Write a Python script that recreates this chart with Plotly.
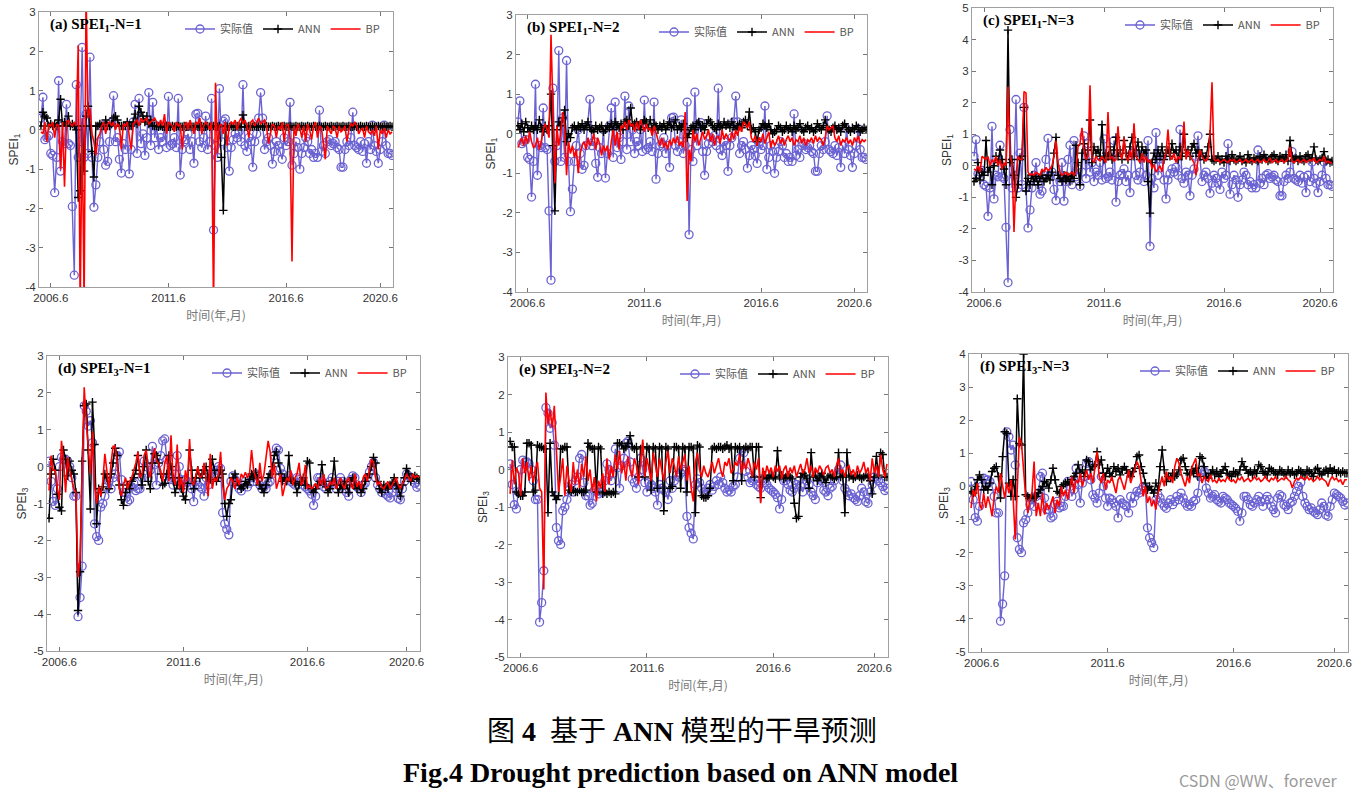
import plotly.graph_objects as go

W, H = 1356, 798

# ---------------- data (monthly, Jan 2006 .. Dec 2020) ----------------
months = list(range(1, 181))
xtick_vals = [6, 66, 126, 174]
xtick_text = ["2006.6", "2011.6", "2016.6", "2020.6"]

spei1_actual = [
    0.3, 0.83, -0.25, -0.2, -0.15, -0.6, -0.65, -1.6, -0.7, 1.25, -1.05, -0.3,
    -0.35, 0.65, -0.35, -0.4, -1.95, -3.7, 1.15, -0.7, -0.3, 2.1, -0.7, 0.4,
    -0.6, 1.85, -0.7, -1.97, -1.4, -0.7, -0.3, 0.1, -0.5, -0.9, -0.8, -0.3,
    0.2, 0.87, -0.3, -0.2, -0.75, -1.1, -0.35, -0.5, 0.1, -1.12, -0.5, 0.2,
    0.65, -0.6, 0.8, -0.35, -0.1, -0.65, -0.2, 0.95, -0.4, 0.7, -0.2, 0.1,
    -0.5, -0.2, -0.3, 0.1, -0.45, 0.85, -0.4, -0.35, -0.2, -0.45, 0.8, -1.15,
    -0.5, -0.3, -0.25, -0.1, -0.5, -0.3, -0.85, 0.4, 0.42, -0.3, -0.45, -0.2,
    0.35, -0.5, -0.3, 0.8, -2.55, -0.4, -0.7, 1.05, -0.3, 0.22, 0.28, -0.45,
    -1.05, -0.45, -0.25, -0.1, -0.2, -0.05, -0.3, 1.15, -0.4, -0.55, -0.2, -0.3,
    -0.95, -0.3, -0.1, 0.3, 0.95, 0.3, -0.5, -0.3, -0.2, -0.4, -0.87, -0.55,
    -0.3, -0.4, -0.55, -0.75, -0.2, -0.4, -0.3, 0.7, -0.9, -0.6, -0.3, -0.45,
    -1.0, -0.6, -0.45, -0.2, -0.3, -0.6, -0.5, -0.7, -0.6, -0.7, 0.5, -0.55,
    -0.4, -0.6, -0.3, -0.25, -0.4, -0.35, -0.3, -0.45, -0.5, -0.95, -0.95, -0.5,
    -0.3, -0.4, -0.2, 0.45, -0.4, -0.45, -0.5, -0.3, -0.55, -0.35, -0.85, -0.3,
    -0.5, 0.12, -0.4, -0.55, -0.85, -0.5, -0.3, 0.12, -0.4, -0.6, -0.6, -0.65,
]

ann_a = [
    0.1, 0.45, 0.35, 0.3, 0.1, 0.15, 0.1, 0.15, 0.1, 0.25, 0.78, 0.1,
    0.2, 0.1, 0.35, 0.1, 0.15, 0.1, 0.0, -1.72, -1.55, 0.1, -1.05, 0.35,
    0.6, 0.1, -0.55, -1.2, 0.1, 0.1, 0.15, 0.1, 0.1, 0.25, 0.1, 0.1,
    0.15, 0.3, 0.35, 0.25, 0.1, 0.1, 0.1, 0.1, 0.2, 0.1, 0.1, 0.2,
    0.4, 0.15, 0.6, 0.45, 0.35, 0.2, 0.35, 0.15, 0.25, 0.1, 0.1, 0.1,
    0.08, 0.1, 0.08, 0.08, 0.1, 0.08, 0.08, 0.1, 0.08, 0.08, 0.1, 0.08,
    0.08, 0.1, 0.08, 0.08, 0.1, 0.08, 0.08, 0.1, 0.08, 0.08, 0.1, 0.08,
    0.08, 0.1, 0.08, 0.08, 0.1, 0.08, 0.08, 0.1, -0.7, -2.05, 0.1, 0.08,
    0.08, 0.1, 0.08, 0.08, 0.1, 0.08, 0.08, 0.38, 0.08, 0.08, 0.1, 0.08,
    0.08, 0.1, 0.08, 0.08, 0.1, 0.08, 0.08, 0.1, 0.08, 0.08, 0.1, 0.08,
    0.08, 0.1, 0.08, 0.08, 0.1, 0.08, 0.08, 0.1, 0.08, 0.08, 0.1, 0.08,
    0.08, 0.1, 0.08, 0.08, 0.1, 0.08, 0.08, 0.1, 0.08, 0.08, 0.1, 0.08,
    0.08, 0.1, 0.08, 0.08, 0.1, 0.08, 0.08, 0.1, 0.08, 0.08, 0.1, 0.08,
    0.08, 0.1, 0.08, 0.08, 0.1, 0.08, 0.08, 0.1, 0.08, 0.08, 0.1, 0.08,
    0.08, 0.1, 0.08, 0.08, 0.1, 0.08, 0.08, 0.1, 0.08, 0.08, 0.1, 0.08,
]

bp_a = [
    -0.05, -0.1, 0.2, -0.3, 0.15, 0.1, 0.2, -0.2, 0.15, 0.1, -1.0, 0.2,
    -1.45, 0.2, 0.25, 0.15, 0.1, 0.2, 0.1, 2.15, -4.5, 0.3, -4.5, 3.5,
    0.3, 0.55, -0.1, -0.3, -0.65, -0.2, -0.1, 0.1, 0.2, -0.1, 0.15, 0.2,
    0.1, 0.2, 0.0, 0.15, 0.1, -0.5, 0.15, 0.1, 0.2, -0.1, -0.5, 0.15,
    0.2, 0.25, 0.1, 0.3, 0.2, 0.25, 0.3, 0.15, 0.2, 0.25, 0.3, 0.2,
    0.1, 0.25, 0.1, 0.4, -0.1, 0.2, 0.15, 0.1, -0.05, 0.2, 0.1, 0.15,
    -0.5, 0.1, 0.2, 0.0, 0.25, 0.1, -0.1, 0.2, 0.15, 0.3, -0.1, 0.1,
    0.2, 0.15, 0.0, 0.2, -4.5, 1.2, -0.6, 0.1, 0.15, -0.1, 0.2, -0.4,
    0.1, 0.2, 0.15, 0.25, 0.0, 0.2, 0.3, 0.15, 0.25, 0.1, -0.2, 0.2,
    0.25, 0.1, 0.2, 0.3, 0.15, 0.2, 0.25, 0.1, -0.35, -0.1, 0.15, 0.1,
    -0.2, 0.1, 0.0, 0.2, -0.3, 0.1, 0.15, -0.2, -3.35, 0.1, -0.15, 0.15,
    0.05, -0.2, 0.1, -0.3, 0.15, 0.0, -0.25, 0.1, 0.2, -0.2, 0.1, 0.05,
    -0.3, -0.75, 0.1, 0.0, -0.1, 0.1, 0.05, -0.2, 0.1, -0.05, 0.0, 0.1,
    -0.3, 0.0, 0.15, 0.1, 0.2, 0.1, -0.1, 0.0, 0.05, -0.2, 0.1, -0.05,
    -0.1, 0.0, -0.15, 0.1, -0.5, 0.0, -0.1, 0.05, -0.2, 0.0, -0.1, -0.05,
]

ann_b = [
    0.2, 0.1, 0.25, 0.05, 0.3, 0.15, 0.05, 0.2, 0.1, 0.2, 0.1, 0.35,
    0.15, 0.05, 0.2, 0.1, 0.2, 1.0, -0.3, -1.95, 0.1, 0.3, 0.2, 0.4,
    0.6, -0.2, 0.0, -0.1, 0.15, 0.2, 0.1, 0.2, 0.15, 0.25, 0.1, 0.2,
    0.3, 0.15, 0.1, 0.05, 0.2, 0.1, 0.15, 0.2, 0.05, 0.1, 0.2, 0.15,
    0.25, 0.1, 0.3, 0.2, 0.15, 0.25, 0.1, 0.3, 0.35, 0.2, 0.65, 0.2,
    0.25, 0.3, 0.2, 0.1, 0.25, 0.35, 0.3, 0.15, 0.35, 0.1, 0.25, 0.2,
    0.1, 0.2, 0.15, 0.25, 0.1, 0.2, 0.3, 0.15, 0.2, 0.35, 0.1, 0.2,
    0.15, 0.25, 0.1, -0.1, 0.0, 0.15, 0.2, 0.1, 0.25, 0.3, 0.15, 0.2,
    0.1, 0.25, 0.35, 0.3, 0.2, 0.15, 0.1, 0.25, 0.2, 0.15, 0.3, 0.2,
    0.25, 0.15, 0.3, 0.2, 0.1, 0.2, 0.25, 0.15, 0.3, 0.35, 0.2, 0.55,
    0.1, 0.15, 0.05, -0.2, 0.1, 0.15, 0.25, 0.2, 0.15, 0.25, 0.1, 0.0,
    0.05, 0.1, 0.2, 0.15, 0.05, 0.1, 0.2, 0.1, 0.15, 0.05, 0.2, 0.1,
    0.15, 0.25, 0.1, 0.05, 0.15, 0.2, 0.1, 0.15, 0.05, 0.1, 0.25, 0.15,
    0.1, 0.2, 0.35, 0.15, 0.1, 0.05, 0.15, 0.2, 0.1, 0.15, 0.05, 0.2,
    0.25, 0.15, 0.1, 0.05, 0.15, 0.1, 0.2, 0.15, 0.05, 0.1, 0.15, 0.1,
]

bp_b = [
    -0.35, -0.2, -0.1, -0.3, -0.05, -0.25, 0.05, -0.2, -0.35, -0.3, -0.1, -0.4,
    -0.2, 0.1, 0.25, 0.1, -0.1, 2.5, 0.3, -1.25, 0.2, -0.3, 0.0, 0.55,
    0.2, -1.05, -0.2, -0.5, -0.3, -0.6, -0.4, -1.0, -0.5, -0.3, -0.2, -0.4,
    -0.1, -0.3, -0.2, 0.0, -0.4, -0.1, -0.25, -0.55, -0.3, -0.45, -0.3, -0.65,
    -0.2, 0.1, -0.3, 0.05, -0.4, 0.2, 0.15, 0.3, 0.1, 0.35, 0.2, 0.25,
    0.05, 0.3, 0.1, 0.35, 0.2, 0.05, 0.25, 0.1, 0.15, -0.05, 0.2, 0.0,
    -0.15, -0.3, -0.1, -0.35, -0.2, -0.4, -0.15, -0.3, -0.1, -0.25, -0.05, -0.3,
    -0.2, -0.35, 0.55, -1.7, -0.4, -0.7, 0.1, -0.2, 0.0, -0.3, -0.1, 0.05,
    -0.15, -0.05, 0.1, -0.2, 0.0, -0.3, -0.1, -0.05, -0.25, 0.1, -0.15, 0.0,
    -0.1, -0.2, 0.05, -0.15, 0.1, -0.05, 0.2, 0.05, 0.3, 0.25, 0.15, 0.3,
    -0.1, -0.2, -0.05, -0.3, -0.1, -0.2, 0.0, -0.25, -0.1, 0.05, -0.35, -0.15,
    -0.3, -0.2, -0.05, -0.25, -0.1, -0.3, -0.15, -0.05, -0.2, -0.1, -0.3, -0.15,
    -0.2, -0.05, -0.25, -0.1, -0.3, -0.15, -0.2, -0.1, -0.25, -0.05, -0.2, -0.1,
    -0.15, -0.3, -0.1, 0.2, 0.1, 0.15, 0.2, -0.1, -0.2, -0.05, -0.3, -0.15,
    -0.2, -0.1, -0.25, -0.15, -0.3, -0.1, -0.2, -0.05, -0.25, -0.15, -0.2, -0.15,
]

ann_c = [
    -0.5, -0.4, 0.1, -0.45, -0.2, -0.3, 0.8, -0.2, -0.05, -0.6, 0.0, 0.3,
    0.1, 0.5, 0.2, -0.1, -0.6, 4.3, 0.1, 0.2, -0.3, -1.0, -0.6, 0.2,
    0.3, 1.85, -0.8, -0.4, -0.6, -0.3, -0.5, -0.35, -0.6, -0.4, -0.3, -0.5,
    -0.4, -0.3, -0.45, -0.2, 0.4, 0.9, -0.3, -0.4, -0.5, -0.3, -0.45, -0.35,
    -0.5, -0.3, -0.4, 0.65, 0.1, -0.6, 0.4, 0.7, 0.2, 0.5, 1.45, 0.1,
    0.6, 0.4, 0.5, 0.3, 1.3, 0.2, 0.4, 0.3, 0.6, 0.2, 0.5, 0.9,
    0.3, 0.5, 0.2, 0.8, 0.4, 0.2, 0.6, 0.9, 0.3, 0.5, 0.75, 0.2,
    0.6, 0.4, 0.5, -0.5, -1.5, 0.1, 0.4, 0.2, 0.5, 0.3, 0.6, 0.2,
    0.4, 0.5, 0.3, 0.7, 0.4, 0.5, 0.2, 0.6, 0.3, 1.0, 0.4, 0.5,
    0.3, 0.6, 0.7, 0.4, 0.5, 0.3, 0.4, 0.2, 0.3, 0.6, 1.0, 0.2,
    0.15, 0.2, 0.3, 0.15, 0.2, 0.1, 0.3, 0.2, 0.15, 0.35, 0.2, 0.15,
    0.2, 0.3, 0.15, 0.2, 0.1, 0.35, 0.2, 0.15, 0.25, 0.2, 0.15, 0.3,
    0.2, 0.35, 0.25, 0.15, 0.2, 0.3, 0.35, 0.2, 0.15, 0.3, 0.25, 0.2,
    0.35, 0.15, 0.8, 0.3, 0.2, 0.25, 0.15, 0.3, 0.2, 0.15, 0.3, 0.35,
    0.2, 0.25, 0.6, 0.2, 0.15, 0.2, 0.25, 0.45, 0.15, 0.2, 0.1, 0.15,
]

bp_c = [
    -0.1, -0.15, 0.0, -0.2, 0.3, 0.25, 0.2, 0.3, 0.0, 0.2, 0.1, 0.3,
    0.0, 0.2, -0.1, 0.1, 0.0, 2.5, 0.3, 0.1, -2.1, -0.3, 0.3, 0.2,
    0.2, 2.35, 2.3, -0.2, -0.3, -0.25, -0.3, -0.2, -0.25, -0.3, -0.1, -0.2,
    -0.05, -0.15, -0.1, 0.0, 0.3, 0.8, 0.1, -0.2, -0.3, -0.25, -0.2, -0.3,
    -0.25, -0.2, -0.3, -0.2, 0.6, 0.7, 1.2, 0.5, 0.2, 0.3, 2.55, 0.2,
    0.1, 0.3, 0.2, 0.15, 0.3, 0.2, 0.1, 1.7, 0.2, 0.3, 0.15, 0.2,
    1.25, 0.4, 0.2, 0.9, 0.3, 0.15, 0.5, 0.2, 1.35, 0.3, 0.2, 0.1,
    0.4, 0.1, 0.3, 0.1, 0.2, -0.1, 0.05, -0.2, -0.1, 0.0, -0.2, 0.2,
    0.4, 1.15, 0.3, 0.2, 0.4, 0.1, 0.3, 0.2, 0.5, 1.4, 0.2, 0.5,
    0.3, 0.2, 0.1, -0.3, 0.2, 0.5, 0.3, 0.2, 0.15, 0.25, 1.0, 2.65,
    0.2, 0.15, 0.2, 0.1, 0.15, 0.2, 0.15, 0.1, 0.2, 0.15, 0.2, 0.1,
    0.15, 0.2, 0.1, 0.15, 0.2, 0.1, 0.15, 0.2, 0.1, 0.15, 0.2, 0.1,
    0.15, 0.2, 0.1, 0.15, 0.25, 0.1, 0.15, 0.2, 0.1, 0.15, 0.2, 0.1,
    0.15, 0.2, 0.6, 0.15, 0.1, 0.15, 0.2, 0.1, 0.15, 0.2, 0.1, 0.15,
    0.2, 0.15, 0.25, 0.1, 0.15, 0.2, 0.15, 0.3, 0.1, 0.15, 0.1, 0.1,
]

spei3_actual = [
    0.15, -0.4, -0.94, -1.05, -0.6, 0.0, 0.25, 0.2, 0.2, 0.15, 0.0, -0.3,
    -0.8, -0.8, -4.07, -3.55, -2.7, 1.65, 1.5, 1.1, 1.25, 0.65, -1.55, -1.9,
    -2.0, -1.1, -1.0, -0.8, -0.55, -0.4, -0.6, -0.3, -0.2, 0.3, 0.4, -0.35,
    -0.7, -0.7, -0.95, -0.9, -0.55, -0.45, -0.65, -0.6, -0.6, -0.3, 0.15, 0.0,
    -0.3, -0.1, 0.55, 0.05, -0.5, 0.1, 0.3, 0.7, 0.75, 0.2, -0.25, -0.35,
    -0.5, -0.2, 0.3, 0.0, -0.35, -0.6, -0.35, -0.4, -0.5, -0.6, -0.95, -0.4,
    -0.5, -0.55, -0.6, -0.8, -0.3, -0.5, -0.3, -0.15, -0.2, -0.1, 0.0, -0.05,
    -1.25, -1.55, -1.7, -1.85, -0.4, -0.25, -0.35, -0.5, -0.6, -0.66, -0.5, -0.4,
    -0.55, -0.45, -0.3, -0.4, -0.2, -0.35, -0.5, -0.6, -0.55, -0.6, -0.45, -0.4,
    -0.2, 0.3, 0.5, 0.45, -0.05, -0.2, -0.35, -0.3, -0.25, -0.4, -0.45, -0.5,
    -0.3, -0.35, -0.4, -0.5, -0.55, -0.6, -0.66, -0.75, -1.05, -0.8, -0.3, -0.3,
    -0.4, -0.55, -0.6, -0.5, -0.4, -0.3, -0.45, -0.6, -0.4, -0.3, -0.4, -0.6,
    -0.7, -0.8, -0.35, -0.25, -0.3, -0.55, -0.6, -0.7, -0.5, -0.45, -0.3, -0.15,
    0.0, 0.12, -0.3, -0.5, -0.6, -0.7, -0.65, -0.75, -0.8, -0.85, -0.7, -0.5,
    -0.6, -0.86, -0.9, -0.6, -0.4, -0.2, -0.25, -0.3, -0.35, -0.45, -0.56, -0.5,
]

ann_d = [
    -1.4, -0.2, 0.2, -0.1, -0.75, -1.1, -1.2, 0.45, 0.2, -0.25, 0.15, -0.1,
    -0.2, -0.7, -3.9, -2.85, 0.15, 1.65, 1.7, 0.45, -1.15, 1.75, 0.6, -1.55,
    -0.6, -0.7, -0.55, -0.2, -0.3, -0.6, -0.2, 0.1, 0.5, 0.3, -0.5, -0.9,
    -1.05, -0.7, -0.5, -0.6, -0.4, -0.3, -0.1, 0.3, -0.2, -0.5, 0.0, 0.45,
    -0.4, -0.6, 0.1, 0.35, 0.3, 0.1, -0.2, -0.5, -0.45, -0.2, 0.3, 0.0,
    -0.3, -0.7, -0.5, -0.3, -0.6, -0.8, -0.9, -0.45, 0.45, -0.1, -0.6, -0.3,
    -0.1, -0.3, -0.2, -0.1, 0.0, -0.3, -0.35, 0.2, -0.1, -0.4, -0.3, -0.1,
    -0.2, -1.0, -1.35, -1.0, -0.9, -0.3, -0.2, -0.4, -0.5, -0.6, -0.55, -0.4,
    -0.5, -0.35, -0.2, -0.3, -0.15, -0.3, -0.5, -0.6, -0.7, -0.5, -0.3, -0.2,
    0.0, 0.3, 0.4, 0.1, -0.2, -0.4, -0.3, -0.4, 0.3, -0.35, -0.4, -0.45,
    -0.7, -0.5, -0.4, -0.3, -0.5, 0.15, 0.1, -0.6, -0.7, -0.6, -0.5, -0.4,
    0.05, -0.4, -0.55, -0.7, -0.6, -0.4, 0.15, -0.5, -0.7, -0.5, -0.6, -0.4,
    -0.5, -0.7, -0.4, -0.3, -0.5, -0.6, -0.5, -0.7, -0.6, -0.4, -0.3, -0.2,
    0.0, 0.25, 0.1, -0.4, -0.6, -0.7, -0.5, -0.55, -0.6, -0.5, -0.45, -0.3,
    -0.5, -0.6, -0.8, -0.5, -0.3, -0.05, -0.2, -0.4, -0.3, -0.25, -0.3, -0.35,
]

bp_d = [
    -0.65, 0.3, -0.1, -0.1, -0.6, -0.9, 0.7, 0.2, -0.7, 0.25, -0.1, -0.4,
    -0.6, -0.7, -3.0, -2.5, 0.3, 2.15, 1.2, 0.5, -0.2, 0.95, -0.5, -1.0,
    -0.55, -0.8, -0.4, 0.35, -0.2, -0.6, 0.1, 0.55, 0.55, 0.1, -0.6, -0.8,
    -0.5, -0.3, -0.6, -0.4, -0.3, -0.1, 0.1, 0.4, -0.3, -0.2, 0.3, 0.45,
    -0.1, -0.3, 0.2, 0.5, 0.15, 0.1, -0.2, -0.4, 0.1, 0.3, -0.4, 0.85,
    -0.3, -0.5, 0.6, -0.6, -0.3, -0.7, -0.1, -0.4, 0.75, -0.4, -0.5, -0.2,
    0.0, -0.3, -0.25, 0.1, -0.3, -0.8, 0.35, -0.6, -0.3, -0.4, -0.2, 0.4,
    -0.5, -0.9, -0.6, -0.5, -0.3, -0.4, -0.6, -0.3, -0.5, -0.2, -0.3, -0.15,
    -0.3, -0.2, 0.45, -0.1, -0.3, -0.5, 0.1, -0.4, -0.2, 0.3, 0.7, 0.4,
    -0.3, 0.1, -0.6, -0.4, -0.2, -0.8, -0.5, -0.3, -0.4, -0.1, -0.5, -0.3,
    -0.2, 0.1, -0.5, -0.4, 0.05, -0.6, -0.5, -0.6, -0.55, -0.45, -0.6, -0.3,
    -0.5, -0.2, -0.6, -0.55, -0.4, -0.5, -0.3, -0.6, -0.45, -0.3, -0.5, -0.6,
    -0.4, -0.3, -0.5, -0.6, -0.2, -0.55, -0.4, -0.6, -0.3, -0.2, -0.4, -0.05,
    0.2, 0.1, -0.3, -0.5, -0.4, -0.55, -0.6, -0.5, -0.4, -0.6, -0.5, -0.4,
    -0.3, -0.5, -0.6, -0.45, -0.35, -0.2, -0.3, -0.4, -0.2, -0.3, -0.25, -0.3,
]

ann_e = [
    0.75, 0.6, 0.6, -0.6, -0.65, -0.7, -0.7, -0.6, 0.7, 0.7, 0.65, -0.6,
    -0.55, 0.65, 0.6, 0.6, 0.55, 0.55, -1.15, 0.7, -0.6, -0.7, -0.8, -0.7,
    0.55, 0.55, 0.6, 0.6, -0.55, -0.6, -0.55, -0.6, -0.6, -0.55, -0.6, -0.6,
    -0.55, 0.7, 0.6, 0.55, 0.55, -0.6, 0.6, 0.55, -0.65, -0.6, -0.65, -0.6,
    -0.65, -0.6, -0.65, 0.7, 0.7, 0.65, 0.55, 0.6, 0.7, 0.9, 0.6, 0.55,
    0.6, -0.2, 0.55, 0.6, -0.2, 0.6, 0.55, -0.55, 0.6, 0.55, -0.5, 0.6,
    0.55, -1.1, 0.6, 0.55, -0.5, -0.45, 0.6, 0.6, 0.55, -0.5, 0.6, 0.55,
    -0.6, 0.6, 0.6, 0.55, -1.15, 0.65, 0.6, -0.7, -0.75, -0.75, -0.7, -0.5,
    0.55, 0.6, 0.55, 0.6, 0.6, 0.55, 0.6, 0.65, 0.55, 0.6, -0.3, 0.6,
    0.55, 0.6, -0.3, 0.55, 0.6, 0.55, 0.6, 0.6, -0.2, 0.6, 0.6, -0.75,
    -0.2, -0.15, -0.25, -0.2, -0.15, -0.2, -0.25, 0.5, -0.2, -0.15, -0.25, -0.2,
    -0.15, -0.2, -0.25, -0.9, -1.3, -1.25, -0.2, -0.1, -0.15, -0.25, -0.5, 0.45,
    -0.2, -0.15, -0.3, -0.2, -0.1, -0.25, -0.35, -0.2, -0.15, -0.2, -0.25, -0.2,
    0.45, -0.2, -0.15, -1.15, 0.45, -0.2, -0.15, -0.25, -0.2, -0.15, -0.2, -0.25,
    -0.2, -0.15, -0.2, -0.3, -0.65, -0.2, 0.35, -0.15, 0.45, 0.4, -0.2, -0.2,
]

bp_e = [
    -0.65, 0.25, -0.4, 0.05, -0.1, -0.7, 0.3, -0.1, 0.2, -0.3, 0.1, -0.35,
    0.0, 0.2, -0.5, -0.6, -3.2, 2.05, 1.2, 1.6, 1.1, 1.7, 0.5, -0.6,
    -0.2, 0.3, -0.7, 0.1, -0.3, -0.6, 0.2, -0.4, 0.0, -0.5, 0.15, -0.2,
    0.35, -0.3, 0.0, -0.6, -0.2, -0.85, -0.3, -0.5, -0.1, -0.6, 0.3, -0.4,
    0.1, -0.2, 0.4, 0.0, 0.5, -0.1, 0.2, -0.3, 0.35, 0.0, -0.2, 0.3,
    0.1, -0.4, 0.2, 0.8, -0.2, 0.3, 0.0, -0.3, 0.45, 0.1, -0.2, 0.3,
    0.0, -0.3, 0.2, 0.5, -0.1, 0.3, 0.1, -0.2, 0.35, 0.0, 0.2, 0.4,
    -0.3, 0.1, -0.5, -0.85, 0.2, 0.45, 0.0, -0.2, 0.1, -0.1, -0.2, 0.0,
    0.2, -0.1, 0.1, 0.3, 0.0, -0.2, 0.2, 0.1, 0.3, -0.1, 0.0, 0.2,
    0.1, 0.4, -0.1, 0.2, 0.0, 0.3, 0.1, -0.2, 0.2, 0.0, 0.3, -0.9,
    0.05, -0.2, 0.1, -0.1, 0.05, -0.2, 0.1, -0.05, 0.1, -0.25, 0.0, 0.1,
    -0.2, 0.05, -0.1, 0.1, -0.2, 0.0, 0.15, -0.1, 0.0, 0.3, -0.1, 0.1,
    -0.2, 0.05, -0.1, 0.1, 0.0, -0.15, 0.05, 0.1, -0.1, 0.0, -0.2, 0.1,
    0.3, -0.1, 0.0, -0.2, 0.05, 0.1, -0.15, 0.0, -0.2, 0.1, -0.1, 0.0,
    0.2, -0.1, 0.05, -0.3, 0.3, -0.1, 0.1, -0.2, 0.4, 0.0, -0.2, 0.15,
]

ann_f = [
    -0.15, -0.2, 0.0, 0.2, 0.35, 0.2, -0.1, 0.0, -0.1, 0.1, 0.45, 0.55,
    0.6, 0.3, -0.35, 0.9, 1.65, 1.6, 0.1, -0.3, 0.2, -0.3, 2.65, 1.3,
    1.25, 4.0, -0.25, -0.3, -0.35, -0.3, -0.35, -0.3, -0.2, -0.1, 0.0, 0.15,
    0.1, -0.05, 0.2, 0.55, 0.2, -0.15, -0.2, 0.0, 0.05, 0.1, 0.15, 0.05,
    0.2, 0.3, 0.4, 0.65, 0.4, 0.5, 0.3, 0.8, 0.75, 0.5, 0.6, 0.65,
    1.05, 0.65, 0.8, 0.4, 0.3, 0.55, 0.4, 0.3, 0.6, 0.45, 0.55, 0.35,
    0.5, 0.6, 0.5, 0.4, 0.3, 0.45, 0.55, 0.9, 0.95, 0.6, 0.4, 0.1,
    -0.1, 0.0, -0.1, -0.2, 0.1, -0.1, 0.6, 1.1, 0.5, 0.15, 0.3, 0.25,
    0.4, 0.3, 0.35, 0.5, 0.8, 0.85, 0.6, 0.4, 0.35, 0.5, 0.4, 0.55,
    0.3, 0.9, 0.85, 0.6, 0.3, 0.25, 0.4, 0.5, 0.35, 0.45, 0.3, 0.4,
    0.5, 0.6, 0.4, 0.35, 0.3, 0.45, 0.4, 0.35, 0.5, 0.75, 0.6, 0.5,
    0.4, 0.45, 0.35, 0.5, 0.4, 0.65, 0.6, 0.45, 0.4, 0.35, 0.55, 0.5,
    0.45, 0.4, 0.35, 0.5, 0.45, 0.4, 0.35, 0.5, 0.4, 0.45, 0.35, 0.4,
    0.5, 0.45, 0.4, 0.35, 0.5, 0.45, 0.4, 0.3, 0.5, 0.55, 0.4, 0.35,
    0.45, 0.5, 0.4, 0.55, 0.45, 0.5, 0.4, 0.45, 0.4, 0.45, 0.4, 0.4,
]

bp_f = [
    -0.65, -0.1, -0.3, 0.1, -0.5, -0.7, -0.2, -0.65, -0.3, -0.55, -0.9, -0.3,
    0.0, -0.2, 0.4, 0.0, -0.35, 0.1, -0.2, 0.2, -0.3, -1.6, -0.2, 1.5,
    1.3, 0.4, -0.3, -0.8, -0.4, -0.2, 0.75, -0.9, -0.5, -0.9, -0.2, -0.85,
    -0.5, -0.7, -0.5, -0.3, -0.8, -0.4, -0.6, 0.0, -0.3, -0.1, -0.4, -0.1,
    0.3, -0.2, 0.2, 0.1, 0.4, 0.0, 0.3, 0.5, 0.2, 0.4, 0.1, 0.6,
    1.05, 0.3, 0.1, 0.4, -0.1, 0.2, 0.1, 0.3, 0.0, -0.2, 0.2, 0.3,
    0.1, -0.1, 0.2, 0.5, 0.1, 0.3, 0.5, 0.75, 0.6, 0.1, -0.3, 0.0,
    -0.5, -0.3, -0.6, -0.4, -0.7, -0.2, 0.1, 0.3, 0.0, 0.45, 0.2, 0.3,
    0.1, 0.6, 0.85, 0.7, 0.4, 0.2, 0.0, 0.3, 0.1, 0.55, 0.7, 0.85,
    0.3, 0.4, 0.1, 0.3, 0.2, 0.15, 0.35, 0.15, 0.2, 0.1, 0.25, 0.15,
    0.2, 0.15, 0.3, 0.2, 0.15, 0.2, 0.1, 0.25, 0.2, 0.3, 0.15, 0.2,
    0.25, 0.15, 0.2, 0.3, 0.2, 0.25, 0.15, 0.2, 0.3, 0.2, 0.15, 0.25,
    0.2, 0.3, 0.15, 0.2, 0.25, 0.2, 0.3, 0.2, 0.15, -0.05, 0.15, 0.25,
    0.2, 0.3, 0.25, 0.2, 0.3, 0.2, 0.25, 0.15, 0.2, 0.3, 0.2, 0.25,
    0.2, 0.15, 0.0, 0.2, 0.3, 0.2, 0.25, 0.15, 0.2, 0.05, 0.2, 0.2,
]

series_names = ["实际值", "ANN", "BP"]

# ---------------- styling / layout ----------------
BLUE = "#6b62d2"
panels = [
    dict(act=spei1_actual, ann=ann_a, bp=bp_a, box=(39, 393, 12, 287), yr=(-4, 3),
         title="(a) SPEI<sub>1</sub>-N=1", ylab="SPEI<sub>1</sub>"),
    dict(act=spei1_actual, ann=ann_b, bp=bp_b, box=(516, 867, 15, 292), yr=(-4, 3),
         title="(b) SPEI<sub>1</sub>-N=2", ylab="SPEI<sub>1</sub>"),
    dict(act=spei1_actual, ann=ann_c, bp=bp_c, box=(972, 1333, 8, 292), yr=(-4, 5),
         title="(c) SPEI<sub>1</sub>-N=3", ylab="SPEI<sub>1</sub>"),
    dict(act=spei3_actual, ann=ann_d, bp=bp_d, box=(47, 420, 356, 651), yr=(-5, 3),
         title="(d) SPEI<sub>3</sub>-N=1", ylab="SPEI<sub>3</sub>"),
    dict(act=spei3_actual, ann=ann_e, bp=bp_e, box=(508, 888, 357, 657), yr=(-5, 3),
         title="(e) SPEI<sub>3</sub>-N=2", ylab="SPEI<sub>3</sub>"),
    dict(act=spei3_actual, ann=ann_f, bp=bp_f, box=(969, 1348, 354, 652), yr=(-5, 4),
         title="(f) SPEI<sub>3</sub>-N=3", ylab="SPEI<sub>3</sub>"),
]

fig = go.Figure()
layout = dict(
    width=W, height=H, margin=dict(l=0, r=0, t=0, b=0, autoexpand=False),
    paper_bgcolor="white", plot_bgcolor="white",
    font=dict(family="Liberation Sans, Arial", color="#333"),
    showlegend=True, hovermode=False,
)
annotations = []

for i, p in enumerate(panels):
    n = "" if i == 0 else str(i + 1)
    xa, ya = "x" + n, "y" + n
    lg = "legend" + n
    x0, x1, t, b = p["box"]
    for name, ys, style in [
        (series_names[0], p["act"], dict(mode="lines+markers",
                                         line=dict(color=BLUE, width=1.4),
                                         marker=dict(symbol="circle-open", size=8, color=BLUE,
                                                     line=dict(width=1.3, color=BLUE)))),
        (series_names[1], p["ann"], dict(mode="lines+markers",
                                         line=dict(color="black", width=1.5),
                                         marker=dict(symbol="cross-thin-open", size=6, color="black",
                                                     line=dict(width=1.4, color="black")))),
        (series_names[2], p["bp"], dict(mode="lines",
                                        line=dict(color="#ff0000", width=1.6))),
    ]:
        fig.add_trace(go.Scatter(x=months[:len(ys)], y=ys, name=name, xaxis=xa, yaxis=ya,
                                 legend=lg, cliponaxis=True, **style))

    yticks = list(range(p["yr"][0], p["yr"][1] + 1))
    layout["xaxis" + n] = dict(
        domain=[x0 / W, x1 / W], anchor=ya, range=[0, 180.5], automargin=False,
        tickmode="array", tickvals=xtick_vals, ticktext=xtick_text, ticklabeloverflow="allow",
        ticks="inside", ticklen=4, tickcolor="#777", showline=True, linecolor="#a0a0a0",
        linewidth=1, mirror="ticks", showgrid=False, zeroline=False,
        tickfont=dict(size=11.5, color="#333"),
        title=dict(text="时间(年,月)", standoff=8,
                   font=dict(family="Noto Sans CJK SC", size=12, color="#777")),
    )
    layout["yaxis" + n] = dict(
        domain=[1 - b / H, 1 - t / H], anchor=xa, range=list(p["yr"]), automargin=False,
        tickmode="array", tickvals=yticks, ticktext=[str(v) for v in yticks],
        ticklabeloverflow="allow",
        ticks="inside", ticklen=4, tickcolor="#777", showline=True, linecolor="#a0a0a0",
        linewidth=1, mirror="ticks", showgrid=False, zeroline=False,
        tickfont=dict(size=11.5, color="#333"),
        title=dict(text=p["ylab"], standoff=4, font=dict(size=12, color="#333")),
    )
    layout[lg] = dict(
        orientation="h", xanchor="right", yanchor="middle",
        x=(x1 - 8) / W, y=1 - (t + 17) / H, bgcolor="rgba(0,0,0,0)",
        font=dict(family="Noto Sans CJK SC, Liberation Sans", size=11, color="#555"),
        itemwidth=30, tracegroupgap=0, itemclick=False,
    )
    annotations.append(dict(
        text="<b>" + p["title"] + "</b>", xref="paper", yref="paper",
        x=(x0 + 9) / W, y=1 - (t + 13) / H, xanchor="left", yanchor="middle",
        showarrow=False, font=dict(family="Liberation Serif, Times New Roman", size=15, color="black"),
    ))

annotations += [
    dict(text="图 <b>4</b>  基于 <b>ANN</b> 模型的干旱预测", xref="paper", yref="paper",
         x=682 / W, y=1 - 731 / H, xanchor="center", yanchor="middle", showarrow=False,
         font=dict(family="Liberation Serif, Noto Sans CJK SC", size=28, color="black")),
    dict(text="<b>Fig.4 Drought prediction based on ANN model</b>", xref="paper", yref="paper",
         x=681 / W, y=1 - 772 / H, xanchor="center", yanchor="middle", showarrow=False,
         font=dict(family="Liberation Serif, Times New Roman", size=28, color="black")),
    dict(text="CSDN @WW、forever", xref="paper", yref="paper",
         x=1340 / W, y=1 - 780 / H, xanchor="right", yanchor="middle", showarrow=False,
         font=dict(family="Noto Sans CJK SC", size=16, color="#9a9a9a")),
]
layout["annotations"] = annotations
fig.update_layout(**layout)

fig.write_html("out.html", config={"displayModeBar": False},
               post_script="document.body.style.margin='0px';document.body.style.overflow='hidden';")
